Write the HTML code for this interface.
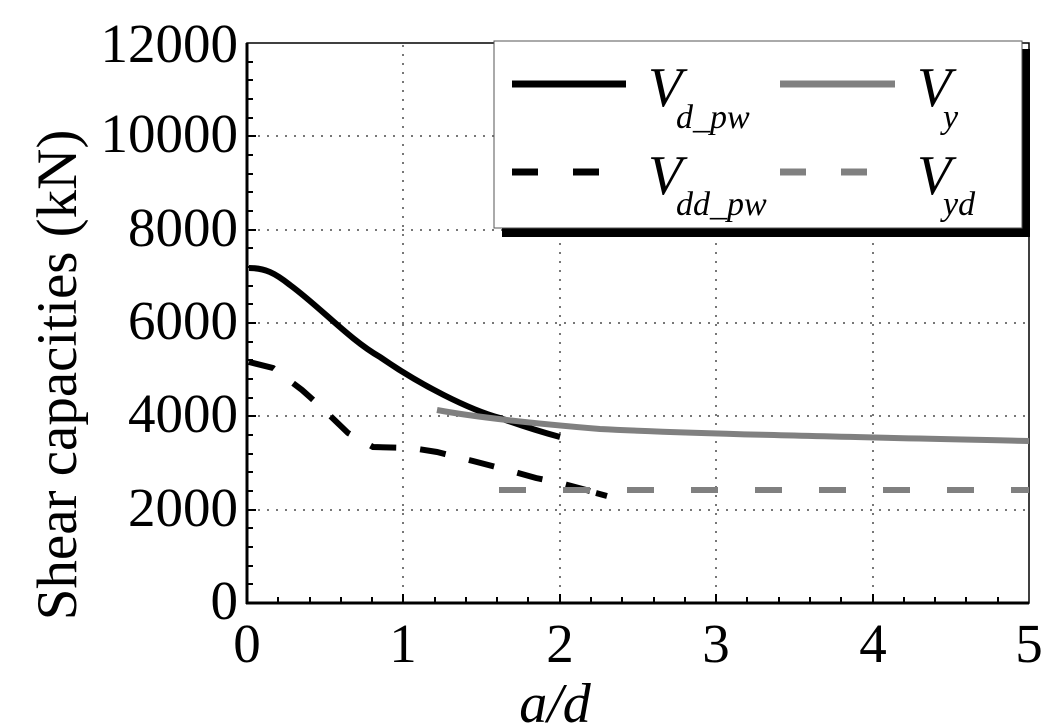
<!DOCTYPE html>
<html><head><style>body{margin:0;background:#fff}svg{display:block}</style></head><body>
<svg width="1058" height="728" xmlns="http://www.w3.org/2000/svg" font-family="Liberation Serif, serif">
<rect width="1058" height="728" fill="#fff"/>
<g stroke="#777" stroke-width="2" stroke-dasharray="2 7">
<line x1="403" y1="45" x2="403" y2="601"/><line x1="560" y1="45" x2="560" y2="601"/>
<line x1="716" y1="45" x2="716" y2="601"/><line x1="873" y1="45" x2="873" y2="601"/>
<line x1="249" y1="510" x2="1027" y2="510"/><line x1="249" y1="416" x2="1027" y2="416"/>
<line x1="249" y1="323" x2="1027" y2="323"/><line x1="249" y1="230" x2="1027" y2="230"/>
<line x1="249" y1="136" x2="1027" y2="136"/>
</g>
<g stroke="#000" stroke-width="2">
<path d="M247,603v-6M278,603v-6M310,603v-6M341,603v-6M372,603v-6M435,603v-6M466,603v-6M497,603v-6M528,603v-6M591,603v-6M622,603v-6M654,603v-6M685,603v-6M747,603v-6M779,603v-6M810,603v-6M841,603v-6M904,603v-6M935,603v-6M966,603v-6M998,603v-6M403,603v-9M560,603v-9M716,603v-9M873,603v-9"/>
<path d="M247,584h6M247,566h6M247,547h6M247,528h6M247,491h6M247,472h6M247,454h6M247,435h6M247,398h6M247,379h6M247,360h6M247,342h6M247,304h6M247,286h6M247,267h6M247,248h6M247,211h6M247,192h6M247,174h6M247,155h6M247,118h6M247,99h6M247,80h6M247,62h6M247,510h9M247,416h9M247,323h9M247,230h9M247,136h9"/>
</g>
<rect x="247" y="43" width="782" height="560" fill="none" stroke="#000" stroke-width="1.5"/>
<line x1="247" y1="43" x2="247" y2="604" stroke="#000" stroke-width="3"/>
<line x1="246" y1="603" x2="1029" y2="603" stroke="#000" stroke-width="3"/>
<path fill="none" stroke="#000" stroke-width="6" d="M249,268 C265,268 275,273 290,285 C320,307 350,340 380,357 C420,385 470,410 500,418 C525,427 545,433 560,437"/>
<path fill="none" stroke="#808080" stroke-width="6" d="M437,410 C480,418 540,424 600,429 C700,434 850,437 1029,441"/>
<polyline fill="none" stroke="#000" stroke-width="6" stroke-dasharray="26 24" points="249,362 273,368 302,390 320,406 348,433 373,447 412,448 437,452 473,461 500,468 536,478 560,483 590,491"/>
<line x1="596" y1="493" x2="607" y2="496" stroke="#000" stroke-width="6"/>
<line x1="499" y1="490" x2="1029" y2="490" stroke="#808080" stroke-width="6" stroke-dasharray="27 37"/>
<rect x="502" y="49" width="528" height="188" fill="#000"/>
<rect x="494" y="41" width="528" height="187" fill="#fff" stroke="#555" stroke-width="1"/>
<line x1="512" y1="84" x2="626" y2="84" stroke="#000" stroke-width="7"/>
<line x1="780" y1="84" x2="895" y2="84" stroke="#808080" stroke-width="7"/>
<line x1="512" y1="172" x2="626" y2="172" stroke="#000" stroke-width="7" stroke-dasharray="26 35"/>
<line x1="780" y1="172" x2="895" y2="172" stroke="#808080" stroke-width="7" stroke-dasharray="26 35"/>
<g font-style="italic" fill="#000">
<text x="648" y="106" font-size="56">V</text><text x="676" y="128" font-size="34">d_pw</text>
<text x="917" y="106" font-size="56">V</text><text x="943" y="128" font-size="34">y</text>
<text x="648" y="194" font-size="56">V</text><text x="676" y="215" font-size="34">dd_pw</text>
<text x="917" y="194" font-size="56">V</text><text x="943" y="215" font-size="34">yd</text>
</g>
<g font-size="55" text-anchor="end" fill="#000">
<text x="238" y="619">0</text><text x="238" y="526">2000</text><text x="238" y="432">4000</text>
<text x="238" y="339">6000</text><text x="238" y="246">8000</text><text x="238" y="152">10000</text><text x="238" y="62">12000</text>
</g>
<g font-size="55" text-anchor="middle" fill="#000">
<text x="247" y="662">0</text><text x="403" y="662">1</text><text x="560" y="662">2</text>
<text x="716" y="662">3</text><text x="873" y="662">4</text><text x="1029" y="662">5</text>
</g>
<text x="555" y="722" font-size="56" font-style="italic" text-anchor="middle">a/d</text>
<text transform="translate(76,375) rotate(-90)" font-size="57" text-anchor="middle">Shear capacities (kN)</text>
</svg>
</body></html>
